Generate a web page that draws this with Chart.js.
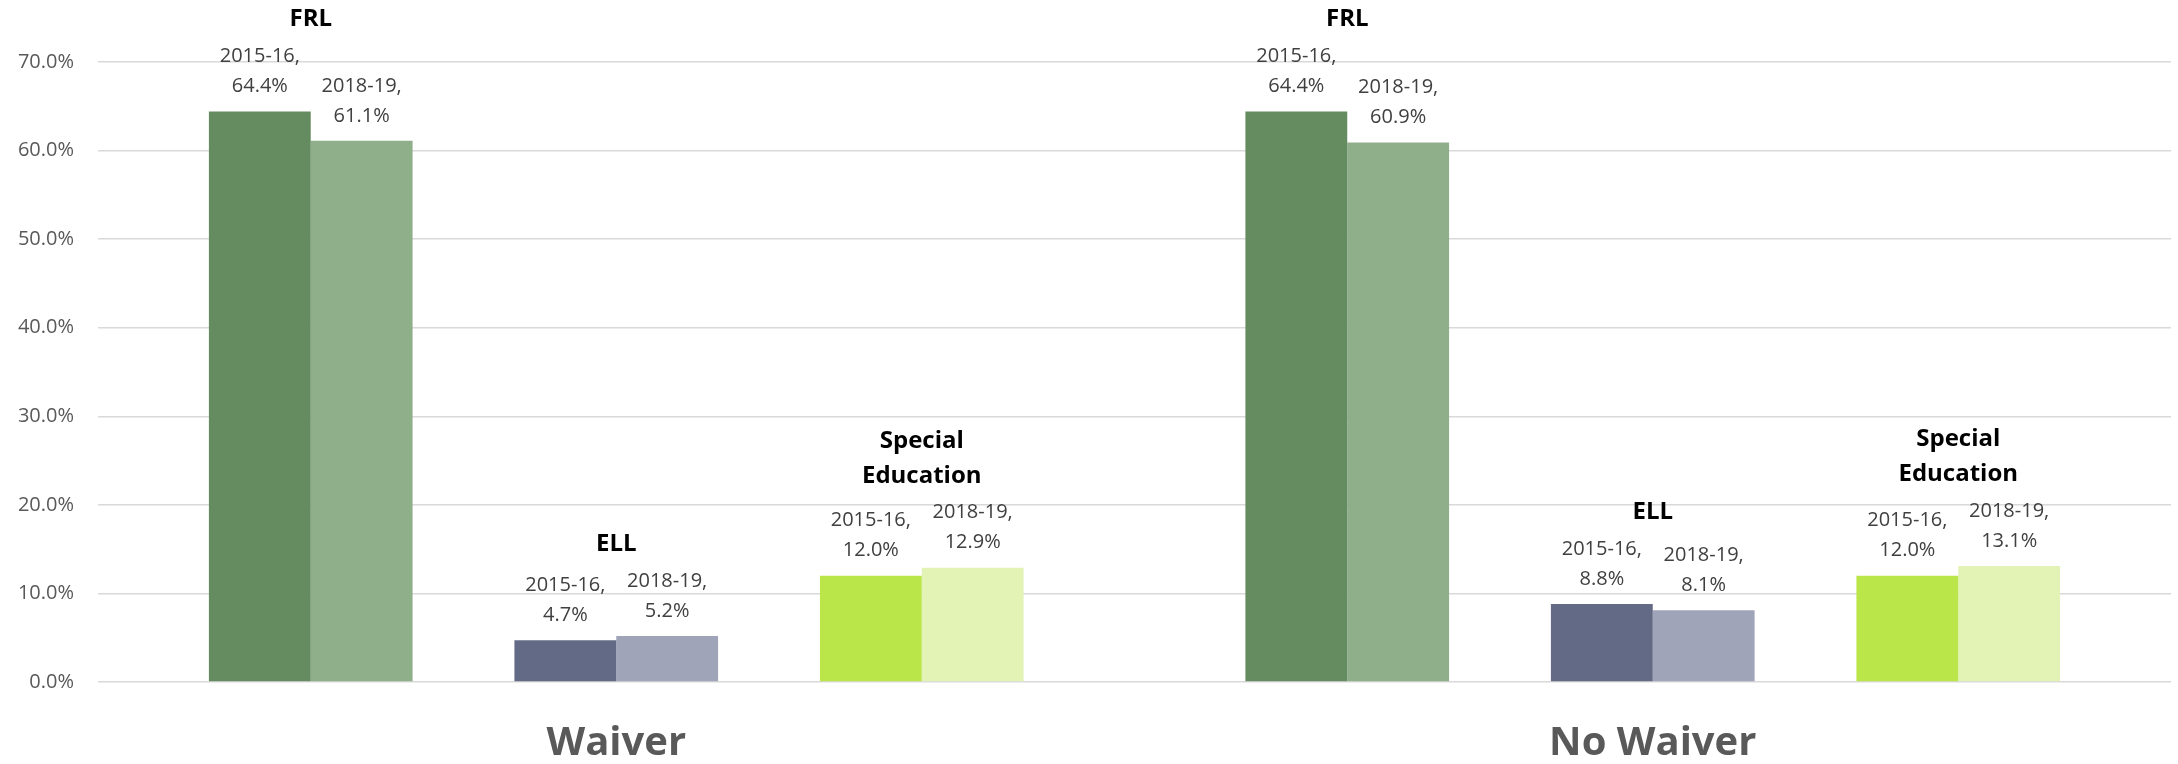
<!DOCTYPE html>
<html>
<head>
<meta charset="utf-8">
<script src="https://cdn.jsdelivr.net/npm/chart.js@4"></script>
<style>
  html, body { margin: 0; padding: 0; background: #fff; }
  #wrap { width: 2178px; height: 764px; position: relative; }
</style>
</head>
<body>
<div id="wrap"><canvas id="chart"></canvas></div>
<script>
/* ── Data ── */
const groups = ["Waiver", "No Waiver"];
const measures = [["FRL"], ["ELL"], ["Special", "Education"]];
const years = ["2015-16", "2018-19"];

const frl1516 = [64.4, 64.4];
const frl1819 = [61.1, 60.9];
const ell1516 = [4.7, 8.8];
const ell1819 = [5.2, 8.1];
const sped1516 = [12.0, 12.0];
const sped1819 = [12.9, 13.1];

const yTicks = [0, 10, 20, 30, 40, 50, 60, 70];

const COLORS = {
  frl: ["#658C60", "#8FAF8A"],
  ell: ["#636A85", "#A0A4B8"],
  sped: ["#BBE64A", "#E2F3B5"],
};

const FONT = "'Open Sans', sans-serif";

/* one dataset per bar colour, with an empty spacer between measures */
function bars(measure, yearIdx, data, color) {
  return {
    label: years[yearIdx],
    measure,
    year: years[yearIdx],
    data,
    backgroundColor: color,
    borderWidth: 0,
  };
}
function spacer() {
  return { label: "", spacer: true, data: groups.map(() => null) };
}

const datasets = [
  bars(0, 0, frl1516, COLORS.frl[0]),
  bars(0, 1, frl1819, COLORS.frl[1]),
  spacer(),
  bars(1, 0, ell1516, COLORS.ell[0]),
  bars(1, 1, ell1819, COLORS.ell[1]),
  spacer(),
  bars(2, 0, sped1516, COLORS.sped[0]),
  bars(2, 1, sped1819, COLORS.sped[1]),
];

/* ── Value labels + measure titles above the bars ── */
const labelPlugin = {
  id: "barLabels",
  afterDatasetsDraw(chart) {
    const ctx = chart.ctx;
    ctx.save();
    ctx.textAlign = "center";
    ctx.textBaseline = "middle";

    // value labels
    ctx.font = "20px " + FONT;
    ctx.fillStyle = "#404040";
    chart.data.datasets.forEach((ds, di) => {
      if (ds.spacer) return;
      chart.getDatasetMeta(di).data.forEach((bar, i) => {
        const v = ds.data[i];
        ctx.fillText(ds.year + ",", bar.x, bar.y - 55);
        ctx.fillText(v.toFixed(1) + "%", bar.x, bar.y - 25);
      });
    });

    // measure titles
    ctx.font = "bold 24px " + FONT;
    ctx.fillStyle = "#000000";
    groups.forEach((g, gi) => {
      measures.forEach((lines, mi) => {
        const els = [];
        chart.data.datasets.forEach((ds, di) => {
          if (!ds.spacer && ds.measure === mi)
            els.push(chart.getDatasetMeta(di).data[gi]);
        });
        const cx = els.reduce((s, e) => s + e.x, 0) / els.length;
        const top = Math.min(...els.map((e) => e.y));
        const last = top - 92;
        lines.forEach((t, li) => {
          ctx.fillText(t, cx, last - (lines.length - 1 - li) * 35);
        });
      });
    });
    ctx.restore();
  },
};

new Chart(document.getElementById("chart"), {
  type: "bar",
  data: { labels: groups, datasets },
  options: {
    responsive: true,
    maintainAspectRatio: false,
    animation: false,
    layout: { padding: { top: 62, right: 7, left: 0, bottom: 0 } },
    datasets: { bar: { categoryPercentage: 0.786, barPercentage: 1.0 } },
    scales: {
      x: {
        grid: { display: false, drawTicks: false },
        border: { display: false },
        ticks: {
          padding: 38,
          color: "#595959",
          font: { family: FONT, size: 40, weight: "bold", lineHeight: 1.2 },
        },
        afterFit: (s) => { s.height = 82; },
      },
      y: {
        min: 0,
        max: yTicks[yTicks.length - 1],
        afterBuildTicks: (s) => { s.ticks = yTicks.map((v) => ({ value: v })); },
        grid: { color: "#D9D9D9", lineWidth: 1.5, drawTicks: false },
        border: { display: false },
        ticks: {
          padding: 24,
          color: "#595959",
          font: { family: FONT, size: 20 },
          callback: (v) => v.toFixed(1) + "%",
        },
        afterFit: (s) => { s.width = 98; },
      },
    },
    plugins: {
      legend: { display: false },
      tooltip: { enabled: false },
    },
  },
  plugins: [labelPlugin],
});
</script>
</body>
</html>
